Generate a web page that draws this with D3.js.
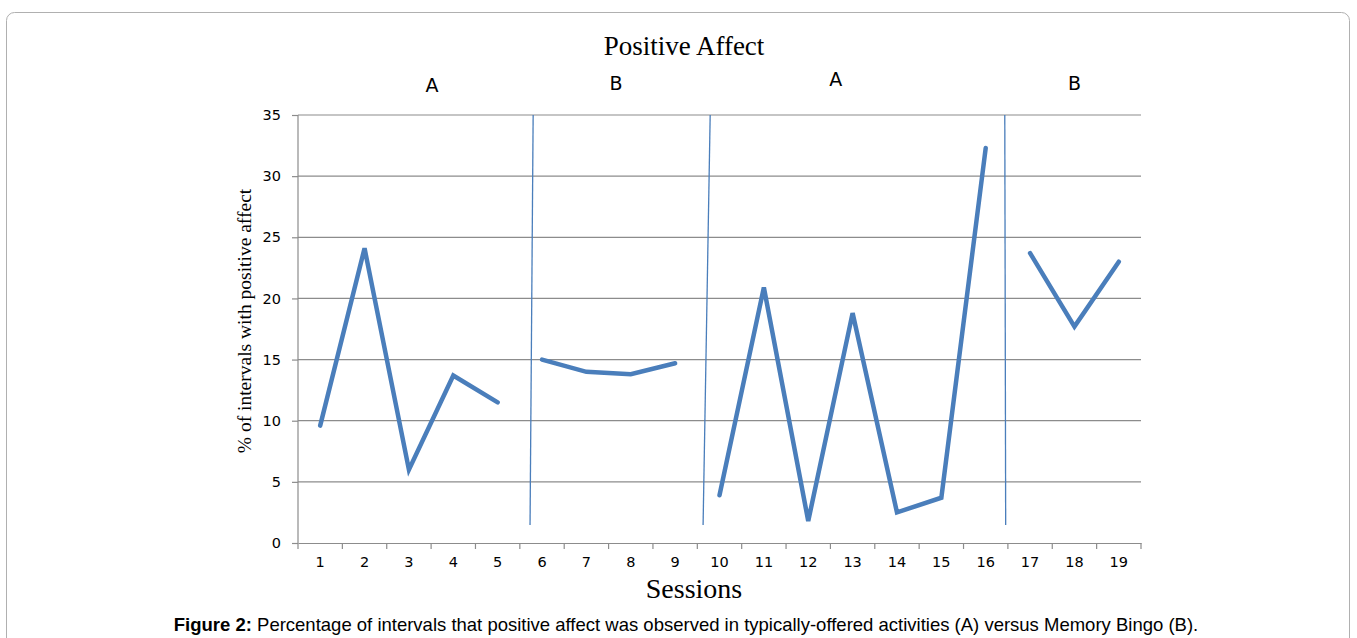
<!DOCTYPE html>
<html>
<head>
<meta charset="utf-8">
<script src="https://d3js.org/d3.v7.min.js"></script>
<style>
  body { margin: 0; background: #fff; }
  svg { display: block; }
</style>
</head>
<body>
<div id="chart"></div>
<script>

// data
var sessions = [1,2,3,4,5,6,7,8,9,10,11,12,13,14,15,16,17,18,19];
var values   = [9.6,24.1,6.0,13.7,11.5,15.0,14.0,13.8,14.7,3.9,20.9,1.8,18.8,2.5,3.7,32.3,23.7,17.7,23.0];
var phaseOf  = [0,0,0,0,0,1,1,1,1,2,2,2,2,2,2,2,3,3,3];
var phaseLabels = ["A","B","A","B"];
var phaseLabelPos = [3.52, 7.67, 12.62, 18.0];   // session position of each label
var phaseLabelVal = [36.9, 37.05, 37.4, 37.05];
// phase change lines (slightly slanted, as hand drawn): [x at top, x at bottom]
var phaseLines = [[5.8, 5.73], [9.79, 9.63], [16.43, 16.45]];
var yTicks = [0,5,10,15,20,25,30,35];

var W = 1357, H = 638;
var margin = {top: 115, left: 298, right: 216, bottom: 95};
var width = W - margin.left - margin.right,
    height = H - margin.top - margin.bottom;

var svg = d3.select("#chart").append("svg")
    .attr("width", W)
    .attr("height", H);

// frame around the figure
svg.append("rect")
  .attr("x", 6.5).attr("y", 12.5)
  .attr("width", 1343).attr("height", 660)
  .attr("rx", 8)
  .attr("fill", "none")
  .attr("stroke", "#b0b0b0");

var g = svg.append("g")
  .attr("transform", "translate(" + margin.left + "," + margin.top + ")");

var x = d3.scaleBand()
  .domain(sessions)
  .range([0, width]);

// continuous version of x for the phase lines and labels
var xs = d3.scaleLinear()
  .domain([1, 19])
  .range([x(1) + x.bandwidth() / 2, x(19) + x.bandwidth() / 2]);

var y = d3.scaleLinear()
  .domain([0, 35])
  .range([height, 0]);

// gridlines
g.append("g")
  .selectAll("line")
  .data(yTicks.slice(1))
  .enter().append("line")
    .attr("x1", 0).attr("x2", width)
    .attr("y1", function(d) { return y(d); })
    .attr("y2", function(d) { return y(d); })
    .attr("stroke", "#8c8c8c")
    .attr("stroke-width", 1.2);

// y axis
var yAxis = g.append("g")
  .call(d3.axisLeft(y).tickValues(yTicks).tickSize(6).tickPadding(11));
yAxis.select(".domain").attr("stroke", "#8c8c8c").attr("stroke-width", 1.2).attr("d", "M0," + height + "V0");
yAxis.selectAll(".tick line").attr("stroke", "#8c8c8c").attr("stroke-width", 1.2);
yAxis.selectAll("text")
  .style("font-family", "'DejaVu Sans', Verdana, sans-serif")
  .style("font-size", "14.5px")
  .attr("fill", "#000");

// x axis with ticks at band boundaries
var xAxis = g.append("g")
  .attr("transform", "translate(0," + height + ")")
  .call(d3.axisBottom(x).tickSize(0).tickPadding(14));
xAxis.select(".domain").attr("stroke", "#8c8c8c").attr("stroke-width", 1.2);
xAxis.selectAll("text")
  .style("font-family", "'DejaVu Sans', Verdana, sans-serif")
  .style("font-size", "14.5px")
  .attr("fill", "#000");
xAxis.selectAll(".bound")
  .data(d3.range(sessions.length + 1))
  .enter().append("line")
    .attr("x1", function(i) { return i * x.step(); })
    .attr("x2", function(i) { return i * x.step(); })
    .attr("y1", 0).attr("y2", 6)
    .attr("stroke", "#8c8c8c")
    .attr("stroke-width", 1.2);

// phase change lines
g.selectAll(".phase")
  .data(phaseLines)
  .enter().append("line")
    .attr("x1", function(d) { return xs(d[0]); })
    .attr("y1", y(35))
    .attr("x2", function(d) { return xs(d[1]); })
    .attr("y2", y(1.47))
    .attr("stroke", "#4a7ebb")
    .attr("stroke-width", 1.3);

// data line, one path per phase
var line = d3.line()
  .x(function(i) { return x(sessions[i]) + x.bandwidth() / 2; })
  .y(function(i) { return y(values[i]); });

var groups = d3.groups(d3.range(sessions.length), function(i) { return phaseOf[i]; });
g.selectAll(".series")
  .data(groups)
  .enter().append("path")
    .attr("d", function(d) { return line(d[1]); })
    .attr("fill", "none")
    .attr("stroke", "#4a7ebb")
    .attr("stroke-width", 4.5)
    .attr("stroke-linejoin", "miter")
    .attr("stroke-linecap", "round");

// phase labels
g.selectAll(".plabel")
  .data(phaseLabels)
  .enter().append("text")
    .attr("x", function(d, i) { return xs(phaseLabelPos[i]); })
    .attr("y", function(d, i) { return y(phaseLabelVal[i]); })
    .attr("text-anchor", "middle")
    .style("font-family", "'DejaVu Sans', Verdana, sans-serif")
    .style("font-size", "19px")
    .text(function(d) { return d; });

// title
svg.append("text")
  .attr("x", 684).attr("y", 55)
  .attr("text-anchor", "middle")
  .style("font-family", "'Liberation Serif', 'Times New Roman', serif")
  .style("font-size", "27px")
  .text("Positive Affect");

// y label
svg.append("text")
  .attr("transform", "translate(251,321) rotate(-90)")
  .attr("text-anchor", "middle")
  .style("font-family", "'Liberation Serif', 'Times New Roman', serif")
  .style("font-size", "19.5px")
  .text("% of intervals with positive affect");

// x label
svg.append("text")
  .attr("x", 694).attr("y", 598)
  .attr("text-anchor", "middle")
  .style("font-family", "'Liberation Serif', 'Times New Roman', serif")
  .style("font-size", "28px")
  .text("Sessions");

// caption
var cap = svg.append("text")
  .attr("x", 686).attr("y", 631)
  .attr("text-anchor", "middle")
  .style("font-family", "'Liberation Sans Narrow', 'Liberation Sans', Arial, sans-serif")
  .style("font-size", "18.5px");
cap.append("tspan").style("font-weight", "bold").text("Figure 2:");
cap.append("tspan").text(" Percentage of intervals that positive affect was observed in typically-offered activities (A) versus Memory Bingo (B).");

</script>
</body>
</html>
